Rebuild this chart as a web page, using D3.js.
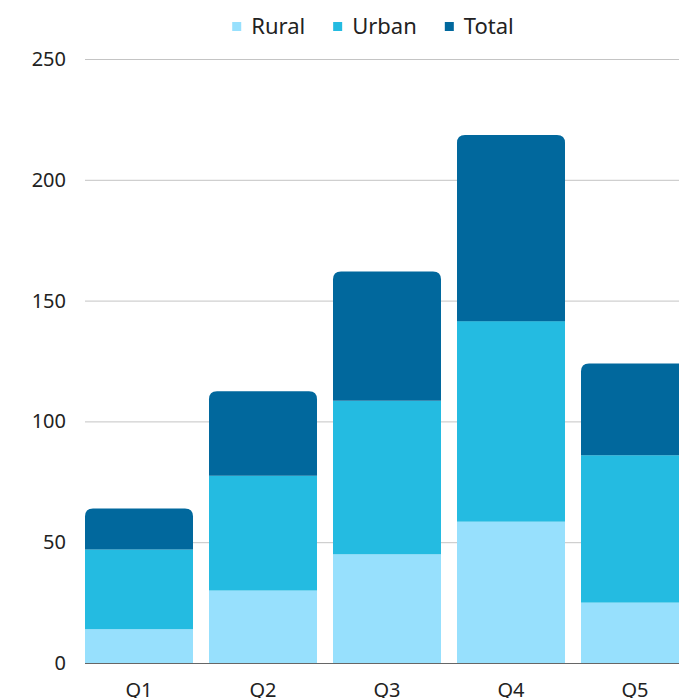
<!DOCTYPE html>
<html>
<head>
<meta charset="utf-8">
<script src="https://cdn.jsdelivr.net/npm/d3@7"></script>
<style>
  body { margin: 0; background: #fff; overflow: hidden; }
  svg { display: block; font-family: "Noto Sans", "Open Sans", sans-serif; }
</style>
</head>
<body>
<div id="chart"></div>
<script>
// chart data
const quarters = ['Q1', 'Q2', 'Q3', 'Q4', 'Q5'];
const seriesNames = ['Rural', 'Urban', 'Total'];
const rural = [14, 30, 45, 58.5, 25];
const urban = [33, 47.5, 63.5, 83, 61];
const total = [17, 35, 53.5, 77, 38];
const yTicks = [0, 50, 100, 150, 200, 250];

const colors = ['#97e0fd', '#24bbe1', '#01689d'];

const width = 679, height = 698;
const margin = {top: 59, left: 85};
const plotBottom = 663;

const rows = quarters.map((q, i) => ({q: q, Rural: rural[i], Urban: urban[i], Total: total[i]}));
const stacked = d3.stack().keys(seriesNames)(rows);

const svg = d3.select('#chart').append('svg')
    .attr('width', width)
    .attr('height', height);

const x = d3.scaleBand()
    .domain(quarters)
    .range([margin.left, margin.left + 4 * 124 + 108])
    .paddingInner(16 / 124)
    .paddingOuter(0);

const y = d3.scaleLinear()
    .domain([0, 250])
    .range([plotBottom, margin.top]);

// gridlines
svg.append('g')
    .selectAll('line')
    .data(yTicks.filter(d => d > 0))
    .join('line')
    .attr('x1', margin.left)
    .attr('x2', width)
    .attr('y1', d => y(d) + 0.5)
    .attr('y2', d => y(d) + 0.5)
    .attr('stroke', '#c4c4c4')
    .attr('stroke-width', 1);

// y labels
svg.append('g')
    .selectAll('text')
    .data(yTicks)
    .join('text')
    .attr('x', 66)
    .attr('y', d => y(d))
    .attr('dy', '0.35em')
    .attr('text-anchor', 'end')
    .attr('font-size', 20)
    .attr('fill', '#222')
    .text(d => d);

const r = 8;
function topRounded(x0, y0, w, h) {
    return `M${x0},${y0 + h}V${y0 + r}Q${x0},${y0} ${x0 + r},${y0}H${x0 + w - r}Q${x0 + w},${y0} ${x0 + w},${y0 + r}V${y0 + h}Z`;
}

// bars
stacked.forEach((layer, li) => {
    const g = svg.append('g').attr('fill', colors[li]);
    layer.forEach(d => {
        const x0 = x(d.data.q), w = x.bandwidth();
        const y0 = y(d[1]), h = y(d[0]) - y(d[1]);
        if (li === seriesNames.length - 1) {
            g.append('path').attr('d', topRounded(x0, y0, w, h));
        } else {
            g.append('rect').attr('x', x0).attr('y', y0).attr('width', w).attr('height', h);
        }
    });
});

// baseline
svg.append('line')
    .attr('x1', margin.left)
    .attr('x2', width)
    .attr('y1', plotBottom + 0.5)
    .attr('y2', plotBottom + 0.5)
    .attr('stroke', '#666')
    .attr('stroke-width', 1);

// x labels
svg.append('g')
    .selectAll('text')
    .data(quarters)
    .join('text')
    .attr('x', d => x(d) + x.bandwidth() / 2)
    .attr('y', 697)
    .attr('text-anchor', 'middle')
    .attr('font-size', 20)
    .attr('fill', '#222')
    .text(d => d);

// legend
const legend = svg.append('g');
let cx = 0;
seriesNames.forEach((name, i) => {
    const item = legend.append('g').attr('transform', `translate(${cx},0)`);
    item.append('rect')
        .attr('x', 0).attr('y', 22)
        .attr('width', 9).attr('height', 9)
        .attr('fill', colors[i]);
    const t = item.append('text')
        .attr('x', 19).attr('y', 34)
        .attr('font-size', 22)
        .attr('fill', '#222')
        .text(name);
    cx += 19 + t.node().getComputedTextLength() + 28;
});
const legendW = cx - 28;
legend.attr('transform', `translate(${373 - legendW / 2},0)`);
</script>
</body>
</html>
